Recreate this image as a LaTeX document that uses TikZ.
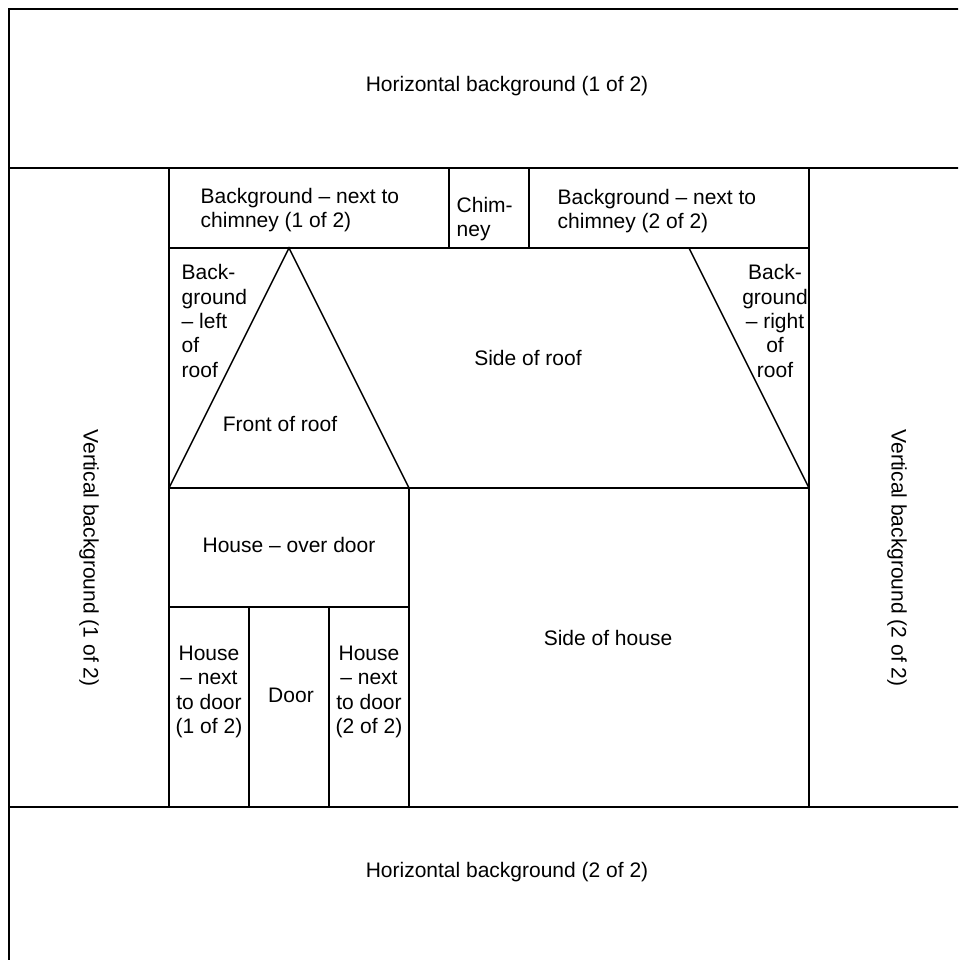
\documentclass[tikz,border=0pt]{standalone}
\usepackage{fontspec}
\setmainfont{Liberation Sans}
\begin{document}
\begin{tikzpicture}[x=1pt,y=-1pt,line width=1.4pt,
    lbl/.style={inner sep=0pt,font=\fontsize{21}{24.4}\selectfont},
    lbll/.style={lbl,align=left,anchor=west},
    lblc/.style={lbl,align=center}]
    \useasboundingbox (0,0) rectangle (958,960);
    \clip (0,0) rectangle (958,960);
    % frame and bands
    \draw (9,970) -- (9,9) -- (970,9);
    \draw (9,168) -- (970,168);
    \draw (9,807) -- (970,807);
    \foreach \x in {169,809} \draw (\x,168) -- (\x,807);
    % chimney row
    \draw (169,248) -- (809,248);
    \foreach \x in {449,529} \draw (\x,168) -- (\x,248);
    % roof
    \draw (169,488) -- (289,248) -- (409,488);
    \draw (689,248) -- (809,488);
    \draw (169,488) -- (809,488);
    % house
    \draw (409,488) -- (409,807);
    \draw (169,607) -- (409,607);
    \foreach \x in {249,329} \draw (\x,607) -- (\x,807);

    \node[lbl] (hbg1) at (507,86) {Horizontal background (1 of 2)};
    \node[lbl] (hbg2) at (507,872) {Horizontal background (2 of 2)};
    \node[lbl,rotate=-90] (vbg1) at (89,558) {Vertical background (1 of 2)};
    \node[lbl,rotate=-90] (vbg2) at (897,558) {Vertical background (2 of 2)};
    \node[lbll] (nxt1) at (200,210) {Background – next to\\chimney (1 of 2)};
    \node[lbll] (chim) at (456,219) {Chim-\\ney};
    \node[lbll] (nxt2) at (557,211) {Background – next to\\chimney (2 of 2)};
    \node[lbll] (lroof) at (181,321) {Back-\\ground\\– left\\of\\roof};
    \node[lblc] (rroof) at (775,321) {Back-\\ground\\– right\\of\\roof};
    \node[lbl] (sroof) at (528,358) {Side of roof};
    \node[lbl] (froof) at (280,424) {Front of roof};
    \node[lbl] (over) at (289,545) {House – over door};
    \node[lblc] (door1) at (209,692) {House\\– next\\to door\\(1 of 2)};
    \node[lbl] (door) at (291,695) {Door};
    \node[lblc] (door2) at (369,692) {House\\– next\\to door\\(2 of 2)};
    \node[lbl] (shouse) at (608,638) {Side of house};
\end{tikzpicture}
\end{document}
